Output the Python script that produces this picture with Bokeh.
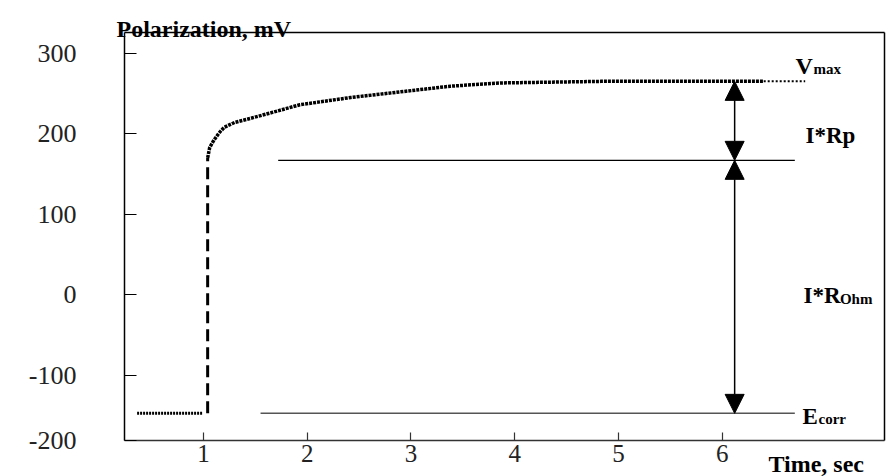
from bokeh.plotting import figure
from bokeh.models import (Range1d, FixedTicker, Label, Arrow, NormalHead, LinearAxis)
from bokeh.embed import file_html
from bokeh.resources import INLINE

# ---- data ----
pre_t = [0.36, 0.99]
pre_v = [-147, -147]
jump_t = [1.04, 1.04]
jump_v = [-147, 170]
curve_t = [1.04, 1.06, 1.10, 1.15, 1.20, 1.30, 1.45, 1.65, 1.93, 2.42, 2.90,
           3.38, 3.86, 4.35, 4.83, 5.50, 6.10, 6.40]
curve_v = [170, 183, 192, 201, 208, 214, 219, 226, 236, 245, 252,
           259, 263, 264, 265, 265, 265, 265]
tail_t = [6.40, 6.80]
tail_v = [265, 265]

e_corr = -147
mid_level = 167
v_max = 265
ecorr_line_t = [1.55, 6.70]
mid_line_t = [1.72, 6.70]
arrow_t = 6.12

x_ticks = [1, 2, 3, 4, 5, 6]
y_ticks = [-181.2, -100, 0, 100, 200, 300]
y_tick_labels = {-181.2: "-200", -100: "-100"}

# plotted box (data limits of the framed area)
X0, X1 = 0.2385, 7.5645
Y0, Y1 = -181.3, 325.6

SERIF = "Liberation Serif"

p = figure(width=890, height=476, output_backend="svg", toolbar_location=None,
           x_range=Range1d(-0.9568, 7.6223), y_range=Range1d(-225.37, 365.35),
           min_border=0, x_axis_location=None, y_axis_location=None, title=None)
p.grid.visible = False
p.background_fill_color = "white"
p.border_fill_color = "white"
p.outline_line_color = None

xax = LinearAxis(fixed_location=Y0, bounds=(X0, X1), ticker=FixedTicker(ticks=x_ticks))
yax = LinearAxis(fixed_location=X0, bounds=(Y0, Y1), ticker=FixedTicker(ticks=y_ticks),
                 major_label_overrides=y_tick_labels)
top = LinearAxis(fixed_location=Y1, bounds=(X0, X1), ticker=FixedTicker(ticks=[]))
right = LinearAxis(fixed_location=X1, bounds=(Y0, Y1), ticker=FixedTicker(ticks=[]))

for ax in (xax, yax, top, right):
    ax.minor_tick_line_color = None
    ax.major_tick_out = 0
    ax.axis_line_width = 1.5
    ax.major_tick_line_width = 1.2
    ax.major_label_text_font = SERIF
    ax.major_label_text_font_size = "26px"
    ax.major_label_text_color = "#222222"
    ax.axis_line_color = "black"
    ax.major_tick_line_color = "black"
yax.major_tick_in = 12
yax.major_label_standoff = 48
xax.major_tick_in = 8
xax.axis_line_color = "#333333"
xax.major_tick_line_color = "#333333"
xax.major_label_text_font_size = "25px"
xax.major_label_standoff = 4
p.add_layout(xax, "below")
p.add_layout(yax, "left")
p.add_layout(top, "above")
p.add_layout(right, "right")

# polarization trace
p.line(pre_t, pre_v, line_color="black", line_width=3, line_dash="2 1")
p.line(jump_t, jump_v, line_color="black", line_width=3, line_dash="12 6")
p.line(curve_t, curve_v, line_color="black", line_width=3.5, line_dash="3 1")
p.line(tail_t, tail_v, line_color="black", line_width=2, line_dash="2 2")

# reference levels
p.line(ecorr_line_t, [e_corr, e_corr], line_color="#555555", line_width=1.5)
p.line(mid_line_t, [mid_level, mid_level], line_color="black", line_width=1.2)

# double arrows
for y0, y1 in ((mid_level, v_max), (mid_level, e_corr)):
    p.add_layout(Arrow(x_start=arrow_t, y_start=y0, x_end=arrow_t, y_end=y1,
                       line_color="black", line_width=1.5,
                       start=NormalHead(size=19, fill_color="black", line_color="black"),
                       end=NormalHead(size=19, fill_color="black", line_color="black")))

def lab(x, y, t, size, bold=True):
    p.add_layout(Label(x=x, y=y, text=t, text_font=SERIF,
                       text_font_size=size, text_color="black",
                       text_font_style="bold" if bold else "normal",
                       text_baseline="alphabetic", text_align="left"))

lab(0.1614, 330.6, "Polarization, mV", "24px")
lab(6.707, 284.6, "V", "24px")
lab(6.880, 280.3, "max", "15px")
lab(6.803, 197.8, "I*Rp", "23px")
lab(6.783, -0.7, "I*R", "23px")
lab(7.135, -4.5, "Ohm", "15px")
lab(6.774, -150.9, "E", "23px")
lab(6.928, -154.6, "corr", "15px")
lab(6.446, -210.4, "Time, sec", "24px")

open("out.html", "w").write(file_html(p, INLINE))
